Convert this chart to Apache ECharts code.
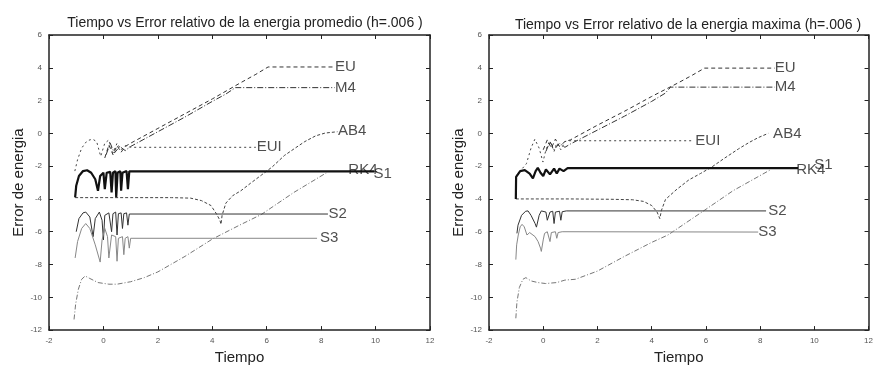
<!DOCTYPE html>
<html>
<head>
<meta charset="utf-8">
<script src="https://cdn.jsdelivr.net/npm/echarts@6/dist/echarts.min.js"></script>
<style>
html,body{margin:0;padding:0;background:#fff;}
#c{width:876px;height:370px;}
</style>
</head>
<body>
<div id="c"></div>
<script>
// ---------- axis ticks ----------
const xTicks = [-2, 0, 2, 4, 6, 8, 10, 12];
const yTicks = [-12, -10, -8, -6, -4, -2, 0, 2, 4, 6];

// ---------- titles ----------
const titleProm = 'Tiempo vs Error relativo de la energia promedio (h=.006 )';
const titleMax = 'Tiempo vs Error relativo de la energia maxima (h=.006 )';
const xName = 'Tiempo';
const yName = 'Error de energia';

// ---------- left panel: energia promedio ----------
const EU_prom = [[0.05,-1.5],[0.2,-0.7],[0.35,-1.3],[0.5,-0.75],[0.65,-1.15],[0.8,-0.8],[1.0,-0.6],[2,0.3],[3,1.2],[4,2.1],[5,3.05],[5.6,3.6],[6.05,4.05],[8.5,4.05]];
const M4_prom = [[0.1,-1.3],[0.25,-0.6],[0.4,-1.2],[0.6,-0.8],[0.8,-1.05],[1.0,-0.8],[2,0.1],[3,1.0],[4,1.95],[4.5,2.4],[4.85,2.79],[8.5,2.79]];
const EUI_prom = [[-1.05,-2.3],[-0.95,-1.6],[-0.8,-0.9],[-0.6,-0.45],[-0.4,-0.35],[-0.25,-0.5],[-0.1,-1.4],[0.05,-0.6],[0.2,-0.4],[0.35,-1.2],[0.5,-0.6],[0.65,-1.0],[0.8,-0.75],[1.0,-0.85],[5.6,-0.85]];
const RK4_prom = [[-1.04,-3.9],[-1.0,-3.2],[-0.9,-2.6],[-0.75,-2.3],[-0.6,-2.25],[-0.45,-2.4],[-0.3,-2.8],[-0.2,-3.5],[-0.12,-2.6],[0.0,-2.4],[0.05,-3.4],[0.12,-2.4],[0.25,-2.35],[0.3,-3.6],[0.35,-2.4],[0.44,-2.3],[0.47,-3.9],[0.52,-2.4],[0.62,-2.3],[0.65,-3.5],[0.7,-2.4],[0.85,-2.3],[0.9,-3.4],[0.95,-2.32],[9.95,-2.32]];
const AB4_prom = [[-1.04,-3.92],[1,-3.92],[2.5,-3.92],[3.2,-3.95],[3.6,-4.1],[3.95,-4.4],[4.15,-4.9],[4.28,-5.3],[4.32,-5.55],[4.36,-5.0],[4.5,-4.25],[4.75,-3.8],[5.05,-3.5],[5.4,-3.05],[5.8,-2.55],[6.2,-2.05],[6.65,-1.35],[7.0,-0.95],[7.4,-0.5],[7.8,-0.15],[8.15,0.02],[8.6,0.1]];
const S1_prom = [[-1.08,-11.35],[-1.02,-10.4],[-0.92,-9.5],[-0.8,-8.9],[-0.67,-8.7],[-0.5,-8.85],[-0.2,-9.1],[0.2,-9.2],[0.5,-9.2],[1.0,-9.05],[1.5,-8.8],[2,-8.45],[3,-7.5],[4,-6.45],[5,-5.6],[5.8,-4.95],[7,-3.6],[8.25,-2.35]];
const S2_prom = [[-1.0,-6.0],[-0.9,-5.2],[-0.75,-4.85],[-0.65,-4.8],[-0.5,-5.1],[-0.38,-6.3],[-0.3,-5.2],[-0.15,-4.8],[-0.05,-5.3],[0.0,-6.5],[0.05,-5.0],[0.2,-4.85],[0.3,-6.0],[0.35,-4.9],[0.45,-4.8],[0.5,-6.2],[0.55,-4.9],[0.65,-4.85],[0.7,-5.8],[0.75,-4.9],[0.85,-4.85],[0.9,-5.6],[0.95,-4.92],[8.25,-4.92]];
const S3_prom = [[-1.04,-7.6],[-0.95,-6.6],[-0.8,-5.8],[-0.65,-5.5],[-0.5,-5.8],[-0.3,-6.8],[-0.12,-7.85],[-0.05,-6.5],[0.05,-5.8],[0.15,-6.3],[0.2,-7.6],[0.3,-6.2],[0.45,-6.3],[0.5,-7.8],[0.55,-6.4],[0.7,-6.3],[0.75,-7.4],[0.8,-6.4],[0.9,-6.3],[0.95,-7.0],[1.0,-6.4],[7.85,-6.4]];
const labels_prom = [['EU',8.51,4.05],['M4',8.51,2.79],['AB4',8.62,0.18],['EUI',5.63,-0.85],['RK4',9.0,-2.23],['S1',9.92,-2.45],['S2',8.27,-4.94],['S3',7.96,-6.4]];

// ---------- right panel: energia maxima ----------
const EU_max = [[0.0,-1.0],[0.15,-0.4],[0.3,-0.9],[0.45,-0.35],[0.6,-0.8],[0.8,-0.5],[1.0,-0.4],[2,0.5],[3,1.35],[4,2.25],[5,3.1],[5.5,3.55],[5.95,3.98],[8.54,3.98]];
const M4_max = [[0.1,-1.1],[0.25,-0.5],[0.4,-1.0],[0.6,-0.6],[0.8,-0.85],[1.0,-0.65],[2,0.2],[3,1.05],[4,1.95],[4.5,2.45],[4.7,2.82],[8.54,2.82]];
const EUI_max = [[-1.0,-2.6],[-0.85,-2.3],[-0.62,-1.85],[-0.45,-0.9],[-0.31,-0.36],[-0.15,-0.9],[-0.01,-1.75],[0.1,-1.0],[0.24,-0.45],[0.4,-1.1],[0.5,-0.6],[0.65,-1.0],[0.8,-0.5],[0.95,-0.45],[5.55,-0.45]];
const RK4_max = [[-1.01,-4.0],[-1.0,-2.65],[-0.85,-2.3],[-0.68,-2.24],[-0.5,-2.45],[-0.38,-2.74],[-0.28,-2.3],[-0.2,-2.1],[-0.1,-2.4],[0.0,-2.6],[0.1,-2.2],[0.25,-2.5],[0.4,-2.15],[0.5,-2.45],[0.6,-2.15],[0.75,-2.3],[0.9,-2.12],[9.4,-2.12]];
const AB4_max = [[-1.01,-4.0],[1,-4.0],[2.5,-4.02],[3.3,-4.05],[3.7,-4.15],[4.0,-4.4],[4.2,-4.8],[4.3,-5.2],[4.36,-4.7],[4.51,-4.03],[4.9,-3.45],[5.37,-2.84],[5.8,-2.45],[6.22,-2.05],[6.7,-1.5],[7.2,-0.95],[7.6,-0.55],[7.93,-0.26],[8.3,0.0]];
const S1_max = [[-1.01,-11.28],[-0.97,-10.3],[-0.88,-9.4],[-0.75,-8.9],[-0.64,-8.8],[-0.45,-9.0],[-0.2,-9.1],[0.09,-9.16],[0.5,-9.1],[0.8,-8.95],[1.19,-8.9],[2,-8.4],[3,-7.5],[4,-6.65],[4.6,-6.2],[5.95,-4.69],[7,-3.5],[8.36,-2.24]];
const S2_max = [[-0.97,-6.1],[-0.93,-5.6],[-0.8,-5.0],[-0.65,-4.75],[-0.56,-4.73],[-0.45,-5.0],[-0.3,-5.5],[-0.25,-5.72],[-0.15,-5.0],[-0.07,-4.73],[0.1,-4.8],[0.15,-5.3],[0.25,-4.8],[0.35,-4.75],[0.4,-5.5],[0.45,-4.8],[0.6,-4.75],[0.65,-5.3],[0.7,-4.78],[0.85,-4.73],[8.22,-4.73]];
const S3_max = [[-1.01,-7.7],[-0.98,-6.8],[-0.92,-6.2],[-0.85,-5.7],[-0.78,-5.55],[-0.7,-5.7],[-0.6,-6.2],[-0.5,-6.05],[-0.44,-6.0],[-0.3,-6.3],[-0.19,-6.6],[-0.1,-7.0],[-0.07,-7.2],[0.0,-6.5],[0.05,-6.1],[0.15,-6.0],[0.25,-6.6],[0.3,-6.05],[0.45,-6.0],[0.5,-6.4],[0.55,-6.05],[0.7,-6.0],[7.93,-6.02]];
const labels_max = [['EU',8.54,3.98],['M4',8.54,2.82],['AB4',8.48,-0.02],['EUI',5.61,-0.45],['RK4',9.33,-2.2],['S1',10.0,-1.95],['S2',8.3,-4.73],['S3',7.93,-6.02]];

// ---------- build ----------
const FONT = "'Liberation Sans', Arial, sans-serif";
const styles = {
  EU:  {color:'#333', width:1, type:[4,3]},
  M4:  {color:'#333', width:1, type:[6,2,1,2]},
  EUI: {color:'#444', width:1, type:[2,3]},
  AB4: {color:'#444', width:1, type:[3,2]},
  RK4: {color:'#111', width:2.2, type:'solid'},
  S1:  {color:'#777', width:1, type:[5,2,1,2]},
  S2:  {color:'#333', width:1, type:'solid'},
  S3:  {color:'#888', width:1, type:'solid'}
};
const panels = [
  {title:titleProm, tx:240, ty:11, grid:{left:49, top:35, width:381, height:299}, yGap:22,
   lines:{EU:EU_prom, M4:M4_prom, EUI:EUI_prom, AB4:AB4_prom, RK4:RK4_prom, S1:S1_prom, S2:S2_prom, S3:S3_prom}, labels:labels_prom},
  {title:titleMax, tx:683, ty:13, grid:{left:489, top:35, width:382, height:302}, yGap:23,
   lines:{EU:EU_max, M4:M4_max, EUI:EUI_max, AB4:AB4_max, RK4:RK4_max, S1:S1_max, S2:S2_max, S3:S3_max}, labels:labels_max}
];

const option = {animation:false, backgroundColor:'#fff', title:[], grid:[], xAxis:[], yAxis:[], series:[]};
const tickStyle = {show:true, inside:true, length:4, lineStyle:{color:'#222', width:1}};
const boxLine = {show:true, onZero:false, lineStyle:{color:'#222', width:1.5}};
panels.forEach((p, i) => {
  option.title.push({text:p.title, left:p.tx, top:p.ty, textAlign:'center',
    textStyle:{fontFamily:FONT, fontSize:14, fontWeight:'normal', color:'#222'}});
  option.grid.push(Object.assign({show:false}, p.grid));
  const base = {type:'value', gridIndex:i, min:-2, max:12, interval:2};
  option.xAxis.push(Object.assign({}, base, {position:'bottom', name:xName, nameLocation:'middle', nameGap:17,
    nameTextStyle:{fontFamily:FONT, fontSize:15, color:'#222'},
    axisLine:boxLine, axisTick:tickStyle, splitLine:{show:false},
    axisLabel:{fontSize:8, color:'#555', margin:7, fontFamily:FONT}}));
  option.xAxis.push(Object.assign({}, base, {position:'top', axisLine:boxLine, axisTick:tickStyle,
    splitLine:{show:false}, axisLabel:{show:false}}));
  const ybase = {type:'value', gridIndex:i, min:-12, max:6, interval:2};
  option.yAxis.push(Object.assign({}, ybase, {position:'left', name:yName, nameLocation:'middle', nameGap:p.yGap,
    nameTextStyle:{fontFamily:FONT, fontSize:15, color:'#222'},
    axisLine:boxLine, axisTick:tickStyle, splitLine:{show:false},
    axisLabel:{fontSize:8, color:'#555', margin:7, fontFamily:FONT}}));
  option.yAxis.push(Object.assign({}, ybase, {position:'right', axisLine:boxLine, axisTick:tickStyle,
    splitLine:{show:false}, axisLabel:{show:false}}));
  Object.keys(p.lines).forEach(k => {
    const s = styles[k];
    option.series.push({type:'line', name:k, xAxisIndex:i*2, yAxisIndex:i*2, data:p.lines[k],
      showSymbol:false, symbol:'none', smooth:false, silent:true,
      lineStyle:{color:s.color, width:s.width, type:s.type}});
  });
  option.series.push({type:'scatter', xAxisIndex:i*2, yAxisIndex:i*2, symbolSize:0, silent:true,
    data:p.labels.map(l => ({name:l[0], value:[l[1], l[2]]})),
    label:{show:true, position:'right', distance:0, formatter:'{b}', fontFamily:FONT, fontSize:15, color:'#222'}});
});
const chart = echarts.init(document.getElementById('c'), null, {renderer:'canvas'});
chart.setOption(option);
</script>
</body>
</html>
